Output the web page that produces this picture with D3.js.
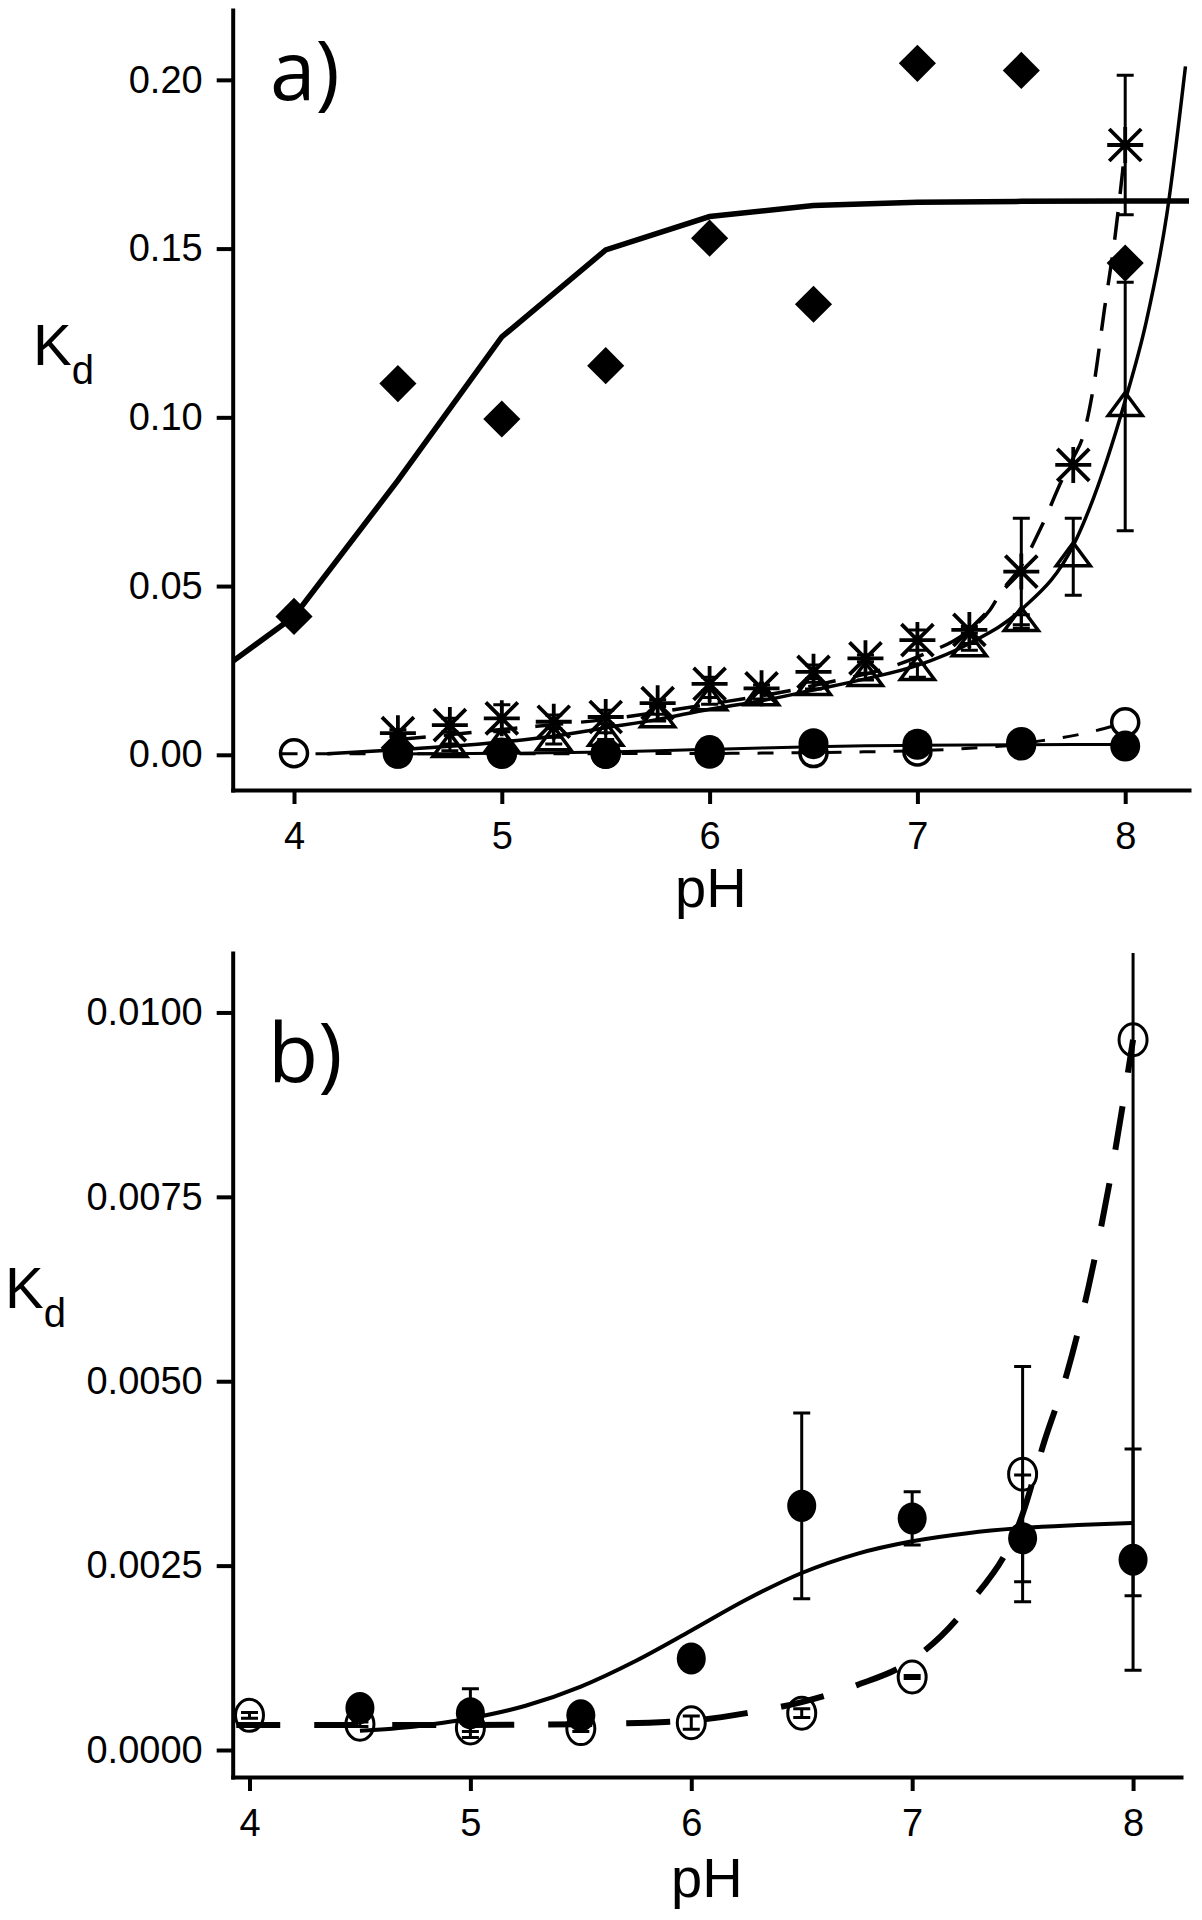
<!DOCTYPE html>
<html><head><meta charset="utf-8">
<script src="https://cdn.jsdelivr.net/npm/d3@7"></script>
<style>body{margin:0;background:#fff}</style>
</head><body>
<svg id="chart" width="1202" height="1920"></svg>
<script>
// ---------- data ----------
const xTicks = [4, 5, 6, 7, 8];
const yTicksA = [0, 0.05, 0.10, 0.15, 0.20];
const yTicksB = [0, 0.0025, 0.0050, 0.0075, 0.0100];

// panel a: filled diamonds + thick solid fit
const diamondPH = [4, 4.5, 5, 5.5, 6, 6.5, 7, 7.5, 8];
const diamondKd = [0.041, 0.110, 0.0995, 0.1153, 0.1531, 0.1335, 0.2049, 0.2028, 0.1457];
const diamondFitPH = [3.705, 4, 4.5, 5, 5.5, 6, 6.5, 7, 7.5, 8, 8.307];
const diamondFitKd = [0.0277, 0.041, 0.0813, 0.1238, 0.1496, 0.1595, 0.1628, 0.1637, 0.1640, 0.1641, 0.1641];

// panel a: asterisks + dashed fit
const asteriskPH = [4.5, 4.75, 5, 5.25, 5.5, 5.75, 6, 6.25, 6.5, 6.75, 7, 7.25, 7.5, 7.75, 8];
const asteriskKd = [0.0064, 0.0088, 0.0108, 0.0098, 0.0112, 0.0153, 0.0210, 0.0197, 0.0246, 0.0286, 0.0340, 0.0370, 0.0543, 0.0859, 0.1807];
const asteriskErr = [0.001, 0.002, 0.004, 0.002, 0.002, 0.001, 0.002, 0.001, 0.002, 0.001, 0.003, 0.001, 0.0158, 0, 0.0207];
const asteriskFitPH = [4.5, 5, 5.5, 6, 6.5, 7, 7.25, 7.35, 7.4, 7.5, 7.6, 7.7, 7.75, 7.8, 7.85, 7.9, 7.95, 8];
const asteriskFitKd = [0.0045, 0.0075, 0.0105, 0.0150, 0.0205, 0.0290, 0.0370, 0.0430, 0.0480, 0.0560, 0.0680, 0.0820, 0.0880, 0.0950, 0.1100, 0.1320, 0.1530, 0.1800];

// panel a: open triangles + thin solid fit
const trianglePH = [4.75, 5, 5.25, 5.5, 5.75, 6, 6.25, 6.5, 6.75, 7, 7.25, 7.5, 7.75, 8];
const triangleKd = [0.0022, 0.0035, 0.0042, 0.0055, 0.0110, 0.0160, 0.0175, 0.0205, 0.0232, 0.0250, 0.0320, 0.0395, 0.0587, 0.1032];
const triangleErr = [0.001, 0.001, 0.001, 0.001, 0.001, 0.001, 0.001, 0.001, 0.001, 0.002, 0.001, 0.002, 0.0114, 0.0368];
const triangleFitPH = [4.16, 4.5, 4.75, 5, 5.25, 5.5, 5.75, 6, 6.25, 6.5, 6.75, 7, 7.25, 7.5, 7.75, 8, 8.1, 8.2, 8.29];
const triangleFitKd = [0.0003, 0.0015, 0.0025, 0.0038, 0.0055, 0.0080, 0.0105, 0.0135, 0.0160, 0.0192, 0.0225, 0.0265, 0.0330, 0.0430, 0.0620, 0.1050, 0.1280, 0.1600, 0.2040];

// filled circles (panel a and b) + solid fit
const filledPH = [4.5, 5, 5.5, 6, 6.5, 7, 7.5, 8];
const filledKd = [0.00057, 0.00050, 0.00047, 0.00124, 0.00331, 0.00314, 0.00287, 0.00258];
const filledErr = [0.00004, 0.00033, 0.00008, 0.00003, 0.00126, 0.00036, 0.00086, 0.00150];
const filledFitPH = [4.5, 4.75, 5, 5.25, 5.5, 5.75, 6, 6.25, 6.5, 6.75, 7, 7.25, 7.5, 7.75, 8];
const filledFitKd = [0.00026, 0.00032, 0.00043, 0.00060, 0.00086, 0.00121, 0.00162, 0.00204, 0.00240, 0.00266, 0.00283, 0.00294, 0.00301, 0.00305, 0.00308];

// open circles (panel a and b) + dashed fit
const openPH = [4, 4.5, 5, 5.5, 6, 6.5, 7, 7.5, 8];
const openKd = [0.00047, 0.00035, 0.00030, 0.00029, 0.00037, 0.00050, 0.00099, 0.00374, 0.00963];
const openErr = [0.00004, 0.00003, 0.00005, 0.00004, 0.00009, 0.00006, 0.00002, 0.00146, 0.00754];
const openFitPH = [3.94, 4.5, 5, 5.5, 6, 6.25, 6.5, 6.75, 7, 7.25, 7.5, 7.6, 7.7, 7.8, 7.9, 8];
const openFitKd = [0.00034, 0.00034, 0.00034, 0.00035, 0.00040, 0.00050, 0.00065, 0.00088, 0.00122, 0.00195, 0.00320, 0.00420, 0.00510, 0.00630, 0.00780, 0.00963];

// ---------- helpers ----------
const svg = d3.select('#chart');
const FONT = "'Liberation Sans', Arial, sans-serif";
const zip = (xs, ys, es) => xs.map((x, i) => ({x, y: ys[i], e: es ? es[i] : 0}));

const asteriskType = {draw(ctx) {
  const r = 18, d = 16;
  ctx.moveTo(0, -r); ctx.lineTo(0, r);
  ctx.moveTo(-r, 0); ctx.lineTo(r, 0);
  ctx.moveTo(-d, -d); ctx.lineTo(d, d);
  ctx.moveTo(-d, d); ctx.lineTo(d, -d);
}};
const triangleType = {draw(ctx) {
  ctx.moveTo(0, -14); ctx.lineTo(17, 9); ctx.lineTo(-17, 9); ctx.closePath();
}};

function panel(id, x, y, yTicks, fmt) {
  const g = svg.append('g').attr('id', id);
  const [x0, x1] = x.range(), [yb, yt] = y.range();
  g.append('clipPath').attr('id', id + 'clip').append('rect')
    .attr('x', x0).attr('y', yt).attr('width', x1 - x0).attr('height', yb - yt);
  const ax = g.append('g').attr('transform', `translate(0,${yb})`)
    .call(d3.axisBottom(x).tickValues(xTicks).tickSize(14).tickSizeOuter(0).tickPadding(18).tickFormat(d3.format('d')));
  const ay = g.append('g').attr('transform', `translate(${x0},0)`)
    .call(d3.axisLeft(y).tickValues(yTicks).tickSize(16).tickSizeOuter(0).tickPadding(14).tickFormat(d3.format(fmt)));
  [ax, ay].forEach(a => {
    a.select('.domain').attr('stroke', '#000').attr('stroke-width', 4).attr('stroke-linecap', 'square');
    a.selectAll('.tick line').attr('stroke', '#000').attr('stroke-width', 4);
    a.selectAll('.tick text').attr('font-size', 38).attr('font-family', FONT).attr('fill', '#000');
  });
  const plot = g.append('g').attr('clip-path', `url(#${id}clip)`);
  return {g, plot};
}

function fitLine(layer, x, y, pts, width, dash, curve) {
  layer.append('path').datum(pts)
    .attr('fill', 'none').attr('stroke', '#000').attr('stroke-width', width)
    .attr('stroke-dasharray', dash || null)
    .attr('d', d3.line().x(d => x(d.x)).y(d => y(d.y)).curve(curve || d3.curveMonotoneX));
}

function errorBars(layer, x, y, pts, width) {
  layer.selectAll(null).data(pts.filter(d => d.e > 0)).enter().append('path')
    .attr('fill', 'none').attr('stroke', '#000').attr('stroke-width', width)
    .attr('d', d => {
      const cx = x(d.x), t = y(d.y + d.e), b = y(d.y - d.e);
      return `M${cx},${t}V${b}M${cx - 8.5},${t}H${cx + 8.5}M${cx - 8.5},${b}H${cx + 8.5}`;
    });
}

function symbols(layer, x, y, pts, type, fill, stroke, sw, rot) {
  layer.selectAll(null).data(pts).enter().append('path')
    .attr('d', d3.symbol().type(type).size(690))
    .attr('transform', d => `translate(${x(d.x)},${y(d.y)})` + (rot ? ` rotate(${rot})` : ''))
    .attr('fill', fill).attr('stroke', stroke).attr('stroke-width', sw);
}

function ellipses(layer, x, y, pts, rx, ry, filled, sw) {
  layer.selectAll(null).data(pts).enter().append('ellipse')
    .attr('cx', d => x(d.x)).attr('cy', d => y(d.y)).attr('rx', rx).attr('ry', ry)
    .attr('fill', filled ? '#000' : 'none').attr('stroke', '#000').attr('stroke-width', filled ? 0 : sw);
}

function kdLabel(g, xPos, yPos) {
  const t = g.append('text').attr('x', xPos).attr('y', yPos)
    .attr('font-family', FONT).attr('font-size', 58).attr('fill', '#000').text('K');
  t.append('tspan').attr('font-size', 40).attr('dy', 19).text('d');
}

// ---------- panel a ----------
const xA = d3.scaleLinear().domain([3.705, 8.307]).range([232.7, 1189]);
const yA = d3.scaleLinear().domain([-0.01043, 0.2207]).range([790, 10]);
const A = panel('pa', xA, yA, yTicksA, '.2f');

fitLine(A.plot, xA, yA, zip(diamondFitPH, diamondFitKd), 5.5, null, d3.curveLinear);
fitLine(A.plot, xA, yA, zip(triangleFitPH, triangleFitKd), 3.5);
fitLine(A.plot, xA, yA, zip(asteriskFitPH, asteriskFitKd), 3.5, '28,18');
fitLine(A.plot, xA, yA, zip(filledFitPH, filledFitKd), 3);
fitLine(A.plot, xA, yA, zip(openFitPH, openFitKd), 3, '16,18');

const tri = zip(trianglePH, triangleKd, triangleErr);
const ast = zip(asteriskPH, asteriskKd, asteriskErr);
errorBars(A.plot, xA, yA, tri, 3);
errorBars(A.plot, xA, yA, ast, 3);
symbols(A.g, xA, yA, tri, triangleType, 'none', '#000', 3.5);
symbols(A.g, xA, yA, ast, asteriskType, 'none', '#000', 3.8);
symbols(A.g, xA, yA, zip(diamondPH, diamondKd), d3.symbolSquare, '#000', 'none', 0, 45);
ellipses(A.g, xA, yA, zip(filledPH, filledKd), 15, 15.5, true);
ellipses(A.g, xA, yA, zip(openPH, openKd), 13.5, 13.5, false, 3.5);

A.g.append('text').attr('x', 270).attr('y', 100).attr('font-family', "'Open Sans', sans-serif")
  .attr('font-size', 82).attr('fill', '#000').text('a)');
kdLabel(A.g, 33, 365);
A.g.append('text').attr('x', d3.mean(xA.range())).attr('y', 907).attr('text-anchor', 'middle')
  .attr('font-family', FONT).attr('font-size', 56).attr('fill', '#000').text('pH');

// ---------- panel b ----------
const xB = d3.scaleLinear().domain([3.924, 8.217]).range([232.7, 1181]);
const yB = d3.scaleLinear().domain([-0.000366, 0.010806]).range([1777, 953]);
const B = panel('pb', xB, yB, yTicksB, '.4f');

const fil = zip(filledPH, filledKd, filledErr);
const opn = zip(openPH, openKd, openErr);
fitLine(B.plot, xB, yB, zip(filledFitPH, filledFitKd), 4);
fitLine(B.plot, xB, yB, zip(openFitPH, openFitKd), 6, '44,34');
errorBars(B.plot, xB, yB, fil, 3);
errorBars(B.plot, xB, yB, opn, 3);
ellipses(B.g, xB, yB, fil, 14.5, 16, true);
ellipses(B.g, xB, yB, opn, 14, 16, false, 3);

B.g.append('text').attr('x', 268).attr('y', 1082).attr('font-family', "'Open Sans', sans-serif")
  .attr('font-size', 82).attr('fill', '#000').text('b)');
kdLabel(B.g, 5, 1308);
B.g.append('text').attr('x', d3.mean(xB.range())).attr('y', 1897).attr('text-anchor', 'middle')
  .attr('font-family', FONT).attr('font-size', 56).attr('fill', '#000').text('pH');
</script>
</body></html>
